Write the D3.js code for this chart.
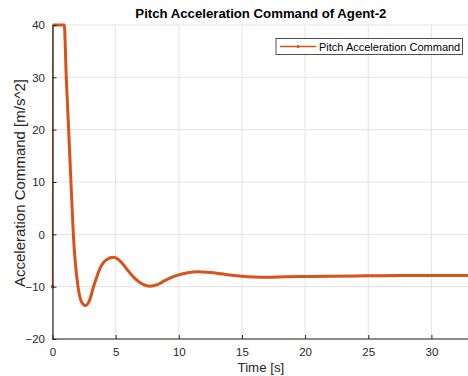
<!DOCTYPE html>
<html>
<head>
<meta charset="utf-8">
<script src="https://cdn.jsdelivr.net/npm/d3@7"></script>
<style>
  body { margin: 0; background: #fff; }
  svg { display: block; font-family: "Liberation Sans", Arial, sans-serif; }
  .grid line { stroke: #e3e3e3; stroke-width: 1; }
</style>
</head>
<body>
<div id="chart"></div>
<script>
// Values
const time = [0, 0.02, 0.93, 1.09, 1.28, 1.46, 1.65, 2.02, 2.3, 2.6, 2.9, 3.3, 3.8, 4.3, 4.85,
  5.4, 6.0, 6.6, 7.2, 7.7, 8.3, 9.0, 9.8, 10.6, 11.5, 12.5, 13.5, 14.8, 16.0, 17.0,
  18.5, 20, 22, 24, 26, 28, 30, 33];
const accelCmd = [-10, 40, 40, 30, 20, 10, 0, -10, -12.9, -13.6, -12.8, -9.6, -6.3, -4.8, -4.4,
  -5.2, -7.0, -8.6, -9.6, -9.9, -9.6, -8.7, -7.9, -7.4, -7.15, -7.3, -7.6, -7.95, -8.15, -8.2,
  -8.1, -8.05, -8.0, -7.95, -7.9, -7.88, -7.87, -7.85];
const xTicks = [0, 5, 10, 15, 20, 25, 30];
const yTicks = [-20, -10, 0, 10, 20, 30, 40];
const seriesName = "Pitch Acceleration Command";
const lineColor = "#d95319";

const W = 468, H = 376;
const margin = {top: 25, right: 0, bottom: 37, left: 52.5};

const svg = d3.select("#chart").append("svg")
    .attr("width", W)
    .attr("height", H);

const x = d3.scaleLinear().domain([0, 33]).range([margin.left, 469.3]);
const y = d3.scaleLinear().domain([-20, 40]).range([339, margin.top]);

// Grid
const grid = svg.append("g").attr("class", "grid");
grid.selectAll(".gx").data(xTicks).enter().append("line")
    .attr("x1", d => x(d)).attr("x2", d => x(d))
    .attr("y1", y(-20)).attr("y2", y(40));
grid.selectAll(".gy").data(yTicks).enter().append("line")
    .attr("x1", x(0)).attr("x2", W)
    .attr("y1", d => y(d)).attr("y2", d => y(d));

// Data line
const pts = time.map((t, i) => [t, accelCmd[i]]);
const line = d3.line()
    .x(d => x(d[0]))
    .y(d => y(d[1]))
    .curve(d3.curveMonotoneX);

svg.append("path")
    .datum(pts)
    .attr("fill", "none")
    .attr("stroke", lineColor)
    .attr("stroke-width", 1.3)
    .attr("d", line);

svg.append("path")
    .datum(pts.slice(1))
    .attr("fill", "none")
    .attr("stroke", lineColor)
    .attr("stroke-width", 3)
    .attr("stroke-linejoin", "round")
    .attr("d", line);

svg.append("circle")
    .attr("cx", x(time[0])).attr("cy", y(accelCmd[0]))
    .attr("r", 1.8).attr("fill", lineColor);

// Axes
const xAxis = d3.axisBottom(x).tickValues(xTicks).tickSizeInner(-4).tickSizeOuter(0).tickPadding(9);
const yAxis = d3.axisLeft(y).tickValues(yTicks).tickSizeInner(-4).tickSizeOuter(0).tickPadding(7.5);

const gx = svg.append("g")
    .attr("transform", `translate(0,${y(-20)})`)
    .call(xAxis);
const gy = svg.append("g")
    .attr("transform", `translate(${x(0)},0)`)
    .call(yAxis);

[gx, gy].forEach(g => {
  g.select(".domain").attr("stroke", "#262626").attr("stroke-width", 1.2);
  g.selectAll(".tick line").attr("stroke", "#262626");
  g.selectAll(".tick text")
    .attr("fill", "#262626")
    .style("font-family", "'Liberation Sans', Arial, sans-serif")
    .style("font-size", "11.5px");
});
gx.select(".domain").attr("d", `M${x(0)},0H${W}`);

// Labels
svg.append("text")
    .attr("x", (x(0) + 469.3) / 2)
    .attr("y", 18)
    .attr("text-anchor", "middle")
    .style("font-size", "13.2px")
    .style("font-weight", "bold")
    .attr("fill", "#000")
    .text("Pitch Acceleration Command of Agent-2");

svg.append("text")
    .attr("x", (x(0) + 469.3) / 2)
    .attr("y", 372)
    .attr("text-anchor", "middle")
    .style("font-size", "13.3px")
    .attr("fill", "#262626")
    .text("Time [s]");

svg.append("text")
    .attr("transform", `translate(24.5,287) rotate(-90)`)
    .attr("text-anchor", "start")
    .style("font-size", "15px")
    .attr("fill", "#262626")
    .text("Acceleration Command [m/s^2]");

// Legend
const legend = svg.append("g").attr("transform", "translate(276,38.5)");
legend.append("rect")
    .attr("width", 186.5).attr("height", 16)
    .attr("fill", "#fff").attr("stroke", "#262626").attr("stroke-width", 0.8);
legend.append("line")
    .attr("x1", 4).attr("x2", 40).attr("y1", 8).attr("y2", 8)
    .attr("stroke", lineColor).attr("stroke-width", 1.3);
legend.append("circle")
    .attr("cx", 22).attr("cy", 8).attr("r", 1.5).attr("fill", lineColor);
legend.append("text")
    .attr("x", 43).attr("y", 12)
    .style("font-size", "11px")
    .attr("fill", "#000")
    .text(seriesName);
</script>
</body>
</html>
